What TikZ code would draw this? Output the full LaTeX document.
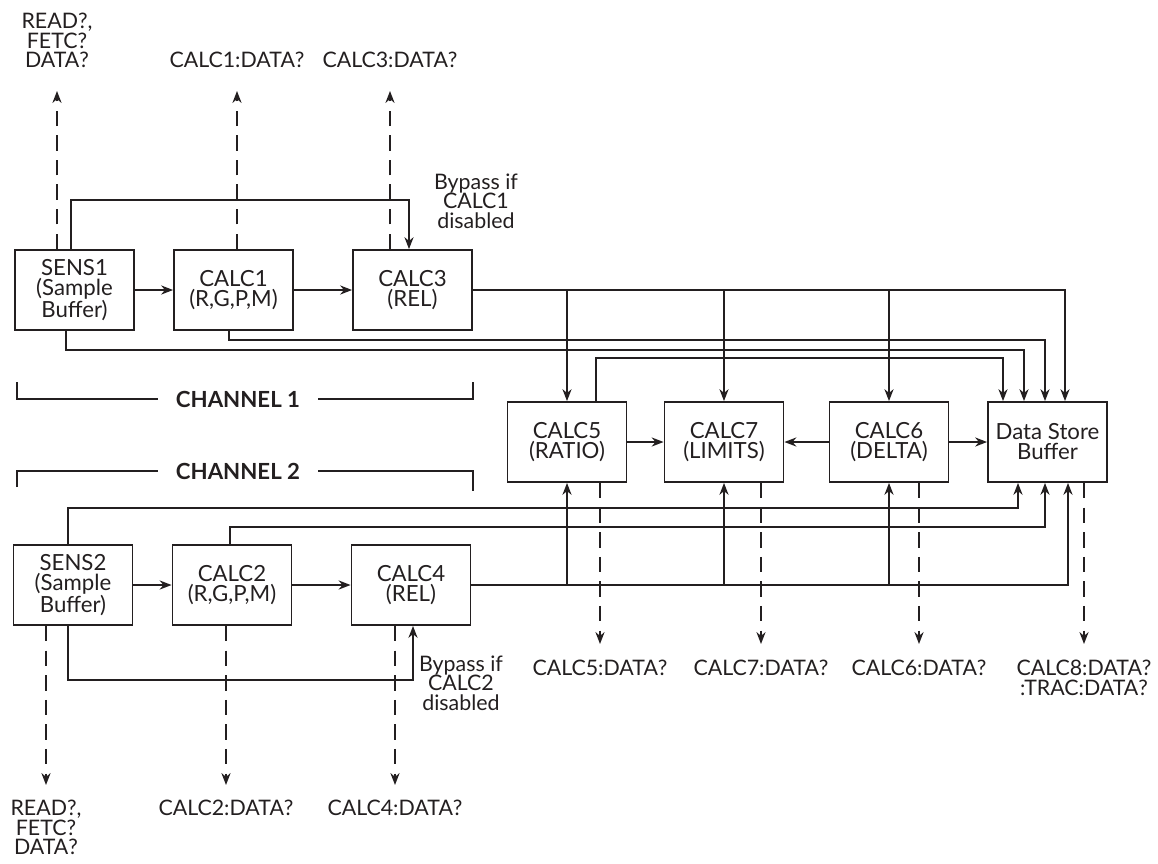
\documentclass[tikz,border=0pt]{standalone}
\usepackage{fontspec}
\setmainfont{Lato}
\usetikzlibrary{arrows.meta, calc}
\definecolor{lineblk}{HTML}{231F20}

\begin{document}
\begin{tikzpicture}[x=0.025cm, y=-0.025cm, font=\fontsize{15.2}{13.8}\selectfont, color=lineblk,
    blk/.style={draw, line width=1.3pt, minimum width=2.975cm, minimum height=2cm, align=center, inner sep=0pt,
      font=\fontsize{15.8}{14.2}\selectfont},
    wire/.style={line width=1.1pt},
    arr/.style={wire, -{Stealth[length=8.5pt, width=6.5pt]}},
    qry/.style={arr, dash pattern=on 11pt off 6.5pt},
    lbl/.style={align=center, inner sep=0pt},
    chan/.style={font=\fontsize{15.8}{16}\selectfont\bfseries, inner xsep=0.45cm, inner ysep=0pt}]
  \useasboundingbox (0,0) rectangle (1158,863);

  \node[blk] (sens1) at (74.5,290) {SENS1\\(Sample\\Buffer)};
  \node[blk] (calc1) at (233.5,290) {CALC1\\(R,G,P,M)};
  \node[blk] (calc3) at (412.5,290) {CALC3\\(REL)};
  \node[blk] (calc5) at (567,442) {CALC5\\(RATIO)};
  \node[blk] (calc7) at (724,442) {CALC7\\(LIMITS)};
  \node[blk] (calc6) at (889,442) {CALC6\\(DELTA)};
  \node[blk] (store) at (1047.5,442) {Data Store\\Buffer};
  \node[blk] (sens2) at (73,585) {SENS2\\(Sample\\Buffer)};
  \node[blk] (calc2) at (232,585) {CALC2\\(R,G,P,M)};
  \node[blk] (calc4) at (411,585) {CALC4\\(REL)};

  \node[lbl, anchor=south] (q1) at (57,68) {READ?,\\FETC?\\DATA?};
  \node[lbl, anchor=south] (q1c) at (237,68) {CALC1:DATA?};
  \node[lbl, anchor=south] (q3c) at (390,68) {CALC3:DATA?};
  \node[lbl, anchor=north] (q2) at (46,800) {READ?,\\FETC?\\DATA?};
  \node[lbl, anchor=north] (q2c) at (226,800) {CALC2:DATA?};
  \node[lbl, anchor=north] (q4c) at (395,800) {CALC4:DATA?};
  \node[lbl, anchor=north] (q5c) at (600,660) {CALC5:DATA?};
  \node[lbl, anchor=north] (q7c) at (761,660) {CALC7:DATA?};
  \node[lbl, anchor=north] (q6c) at (919,660) {CALC6:DATA?};
  \node[lbl, anchor=north] (q8c) at (1084,660) {CALC8:DATA?\\:TRAC:DATA?};

  \node[lbl] (byp1) at (476,201) {Bypass if\\CALC1\\disabled};
  \node[lbl] (byp2) at (461,683) {Bypass if\\CALC2\\disabled};

  \node[chan] (ch1) at (238,399) {CHANNEL 1};
  \node[chan] (ch2) at (238,471) {CHANNEL 2};
  \draw[wire] (17,382) -- (17,399) -- (ch1.west);
  \draw[wire] (ch1.east) -- (473,399) -- (473,382);
  \draw[wire] (17,487) -- (17,471) -- (ch2.west);
  \draw[wire] (ch2.east) -- (473,471) -- (473,491);

  \draw[arr] (sens1) -- (calc1);
  \draw[arr] (calc1) -- (calc3);
  \draw[arr] (sens1.north -| 71,0) -- (71,200) -| (calc3.north -| 409,0);
  \draw[arr] (calc3.east) -| (store.north -| 1065,0);
  \draw[arr] (calc3.east -| calc5.north) -- (calc5.north);
  \draw[arr] (calc3.east -| calc7.north) -- (calc7.north);
  \draw[arr] (calc3.east -| calc6.north) -- (calc6.north);
  \draw[arr] (calc1.south -| 229,0) |- (1045,340) -- (store.north -| 1045,0);
  \draw[arr] (sens1.south -| 66,0) |- (1024,350) -- (store.north -| 1024,0);
  \draw[arr] (calc5.north -| 596,0) |- (1003,358) -- (store.north -| 1003,0);

  \draw[arr] (calc5) -- (calc7);
  \draw[arr] (calc6) -- (calc7);
  \draw[arr] (calc6) -- (store);

  \draw[arr] (sens2) -- (calc2);
  \draw[arr] (calc2) -- (calc4);
  \draw[arr] (sens2.north -| 68,0) |- (1018,508) -- (store.south -| 1018,0);
  \draw[arr] (calc2.north -| 230,0) |- (1045,527) -- (store.south -| 1045,0);
  \draw[arr] (calc4.east) -| (store.south -| 1068,0);
  \draw[arr] (calc4.east -| calc5.south) -- (calc5.south);
  \draw[arr] (calc4.east -| calc7.south) -- (calc7.south);
  \draw[arr] (calc4.east -| calc6.south) -- (calc6.south);
  \draw[arr] (sens2.south -| 68,0) |- (413,680) -- (calc4.south -| 413,0);

  \draw[qry, shorten >=0.575cm] (sens1.north -| q1.south) -- (q1.south);
  \draw[qry, shorten >=0.575cm] (calc1.north -| q1c.south) -- (q1c.south);
  \draw[qry, shorten >=0.575cm] (calc3.north -| q3c.south) -- (q3c.south);
  \draw[qry, shorten >=0.375cm] (sens2.south -| q2.north) -- (q2.north);
  \draw[qry, shorten >=0.375cm] (calc2.south -| q2c.north) -- (q2c.north);
  \draw[qry, shorten >=0.375cm] (calc4.south -| q4c.north) -- (q4c.north);
  \draw[qry, shorten >=0.4cm] (calc5.south -| q5c.north) -- (q5c.north);
  \draw[qry, shorten >=0.4cm] (calc7.south -| q7c.north) -- (q7c.north);
  \draw[qry, shorten >=0.4cm] (calc6.south -| q6c.north) -- (q6c.north);
  \draw[qry, shorten >=0.4cm] (store.south -| q8c.north) -- (q8c.north);
\end{tikzpicture}
\end{document}
